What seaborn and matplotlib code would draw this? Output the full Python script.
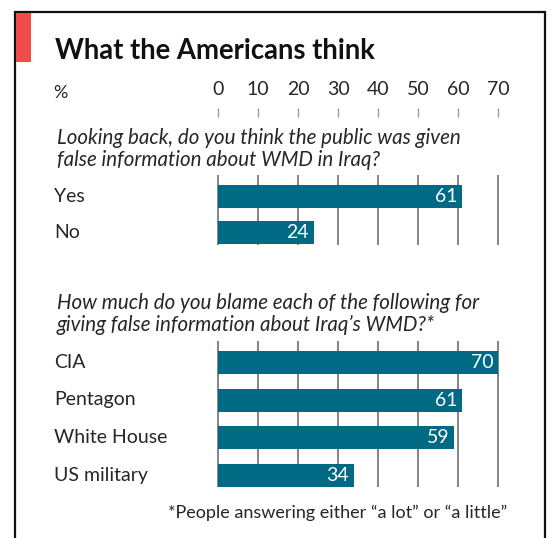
import matplotlib
matplotlib.use("Agg")
import matplotlib.pyplot as plt
from matplotlib.patches import Rectangle
import seaborn as sns
import pandas as pd

# ---- data ----
title = "What the Americans think"
unit_label = "%"
ticks = [0, 10, 20, 30, 40, 50, 60, 70]
q1_text = ["Looking back, do you think the public was given",
           "false information about WMD in Iraq?"]
q1_categories = ["Yes", "No"]
q1_values = [61, 24]
q2_text = ["How much do you blame each of the following for",
           "giving false information about Iraq\u2019s WMD?*"]
q2_categories = ["CIA", "Pentagon", "White House", "US military"]
q2_values = [70, 61, 59, 34]
footnote = "*People answering either \u201ca lot\u201d or \u201ca little\u201d"

BAR = "#006A84"
GRID = "#7a7a7a"
TXT = "#262626"
FONT = "Lato"

sns.set_theme(style="white")
plt.rcParams["font.family"] = [FONT, "DejaVu Sans"]

W, H = 552, 538
fig = plt.figure(figsize=(W / 100, H / 100), dpi=100)
fig.patch.set_facecolor("white")


def fx(px):
    return px / W


def fy(py):
    return 1 - py / H


def axes_box(x0, x1, ytop, ybot):
    return [fx(x0), fy(ybot), (x1 - x0) / W, (ybot - ytop) / H]


# x scale: 0 -> 218px, 70 -> 498px ; pad half a unit on each side
X0, X1 = 216, 500
XLIM = (-0.5, 70.5)


def style_bar_axes(ax, ylim):
    ax.set_xlim(*XLIM)
    ax.set_ylim(*ylim)
    ax.set_xticks(ticks)
    ax.set_yticks([])
    ax.tick_params(axis="x", length=0, labelbottom=False)
    ax.set_xlabel("")
    ax.set_ylabel("")
    for s in ax.spines.values():
        s.set_visible(False)
    ax.set_facecolor("none")
    ax.set_axisbelow(True)
    ax.xaxis.grid(True, color=GRID, linewidth=1.3)


def draw_section(ax, cats, vals, width):
    df = pd.DataFrame({"cat": cats, "val": vals})
    sns.barplot(data=df, x="val", y="cat", orient="h", ax=ax, color=BAR,
                saturation=1, width=width, linewidth=0)
    for cont in ax.containers:
        labels = ax.bar_label(cont, labels=[str(v) for v in vals],
                              padding=-3.5, color="white", fontsize=14)
        for t in labels:
            t.set_ha("right")


# top section: gridlines 175..245px, bar centres 196.5 & 232
sp1 = 35.5
ax1 = fig.add_axes(axes_box(X0, X1, 175, 245))
draw_section(ax1, q1_categories, q1_values, 23 / sp1)
style_bar_axes(ax1, (1 + (245 - 232) / sp1, -(196.5 - 175) / sp1))

# bottom section: gridlines 341..487px, centres 362.5 .. 475.5
sp2 = 37.7
ax2 = fig.add_axes(axes_box(X0, X1, 341, 487))
draw_section(ax2, q2_categories, q2_values, 23 / sp2)
style_bar_axes(ax2, (3 + (487 - 475.5) / sp2, -(362.5 - 341) / sp2))

# scale axis at top (tick marks 108..117px)
axs = fig.add_axes([fx(X0), fy(108), (X1 - X0) / W, 0])
axs.set_xlim(*XLIM)
axs.set_xticks(ticks)
axs.set_xticklabels([str(t) for t in ticks])
axs.set_yticks([])
axs.tick_params(axis="x", top=True, labeltop=True, bottom=False,
                labelbottom=False, direction="in", length=6.5, width=1.0,
                color="#999999", pad=7, labelsize=14, labelcolor=TXT)
for s in axs.spines.values():
    s.set_visible(False)

# category labels
for cats, centres in ((q1_categories, [196.5, 232]),
                      (q2_categories, [362.5, 400, 437.5, 475.5])):
    for c, y in zip(cats, centres):
        fig.text(fx(54), fy(y), c, ha="left", va="center", fontsize=14,
                 color=TXT)

# titles / questions
fig.text(fx(55), fy(59), title, ha="left", va="baseline", fontsize=19.8,
         fontweight="bold", color="#111111")
fig.text(fx(53), fy(93), unit_label, ha="left", va="center", fontsize=13,
         color=TXT)
for line, yb in zip(q1_text, [144, 166]):
    fig.text(fx(57), fy(yb), line, ha="left", va="baseline", fontsize=14.8,
             style="italic", color=TXT)
for line, yb in zip(q2_text, [309, 331]):
    fig.text(fx(57), fy(yb), line, ha="left", va="baseline", fontsize=14.8,
             style="italic", color=TXT)
fig.text(fx(507), fy(518), footnote, ha="right", va="baseline", fontsize=13,
         color=TXT)

# frame and red accent
fig.add_artist(Rectangle((fx(14.5), fy(560)), (545 - 14.5) / W, (560 - 12) / H,
                         transform=fig.transFigure, fill=False,
                         edgecolor="#111111", linewidth=1.6, clip_on=False))
fig.add_artist(Rectangle((fx(15.5), fy(62)), (31 - 15.5) / W, (62 - 13) / H,
                         transform=fig.transFigure, facecolor="#F04B4B",
                         edgecolor="none"))

fig.savefig("out.png", dpi=100)
